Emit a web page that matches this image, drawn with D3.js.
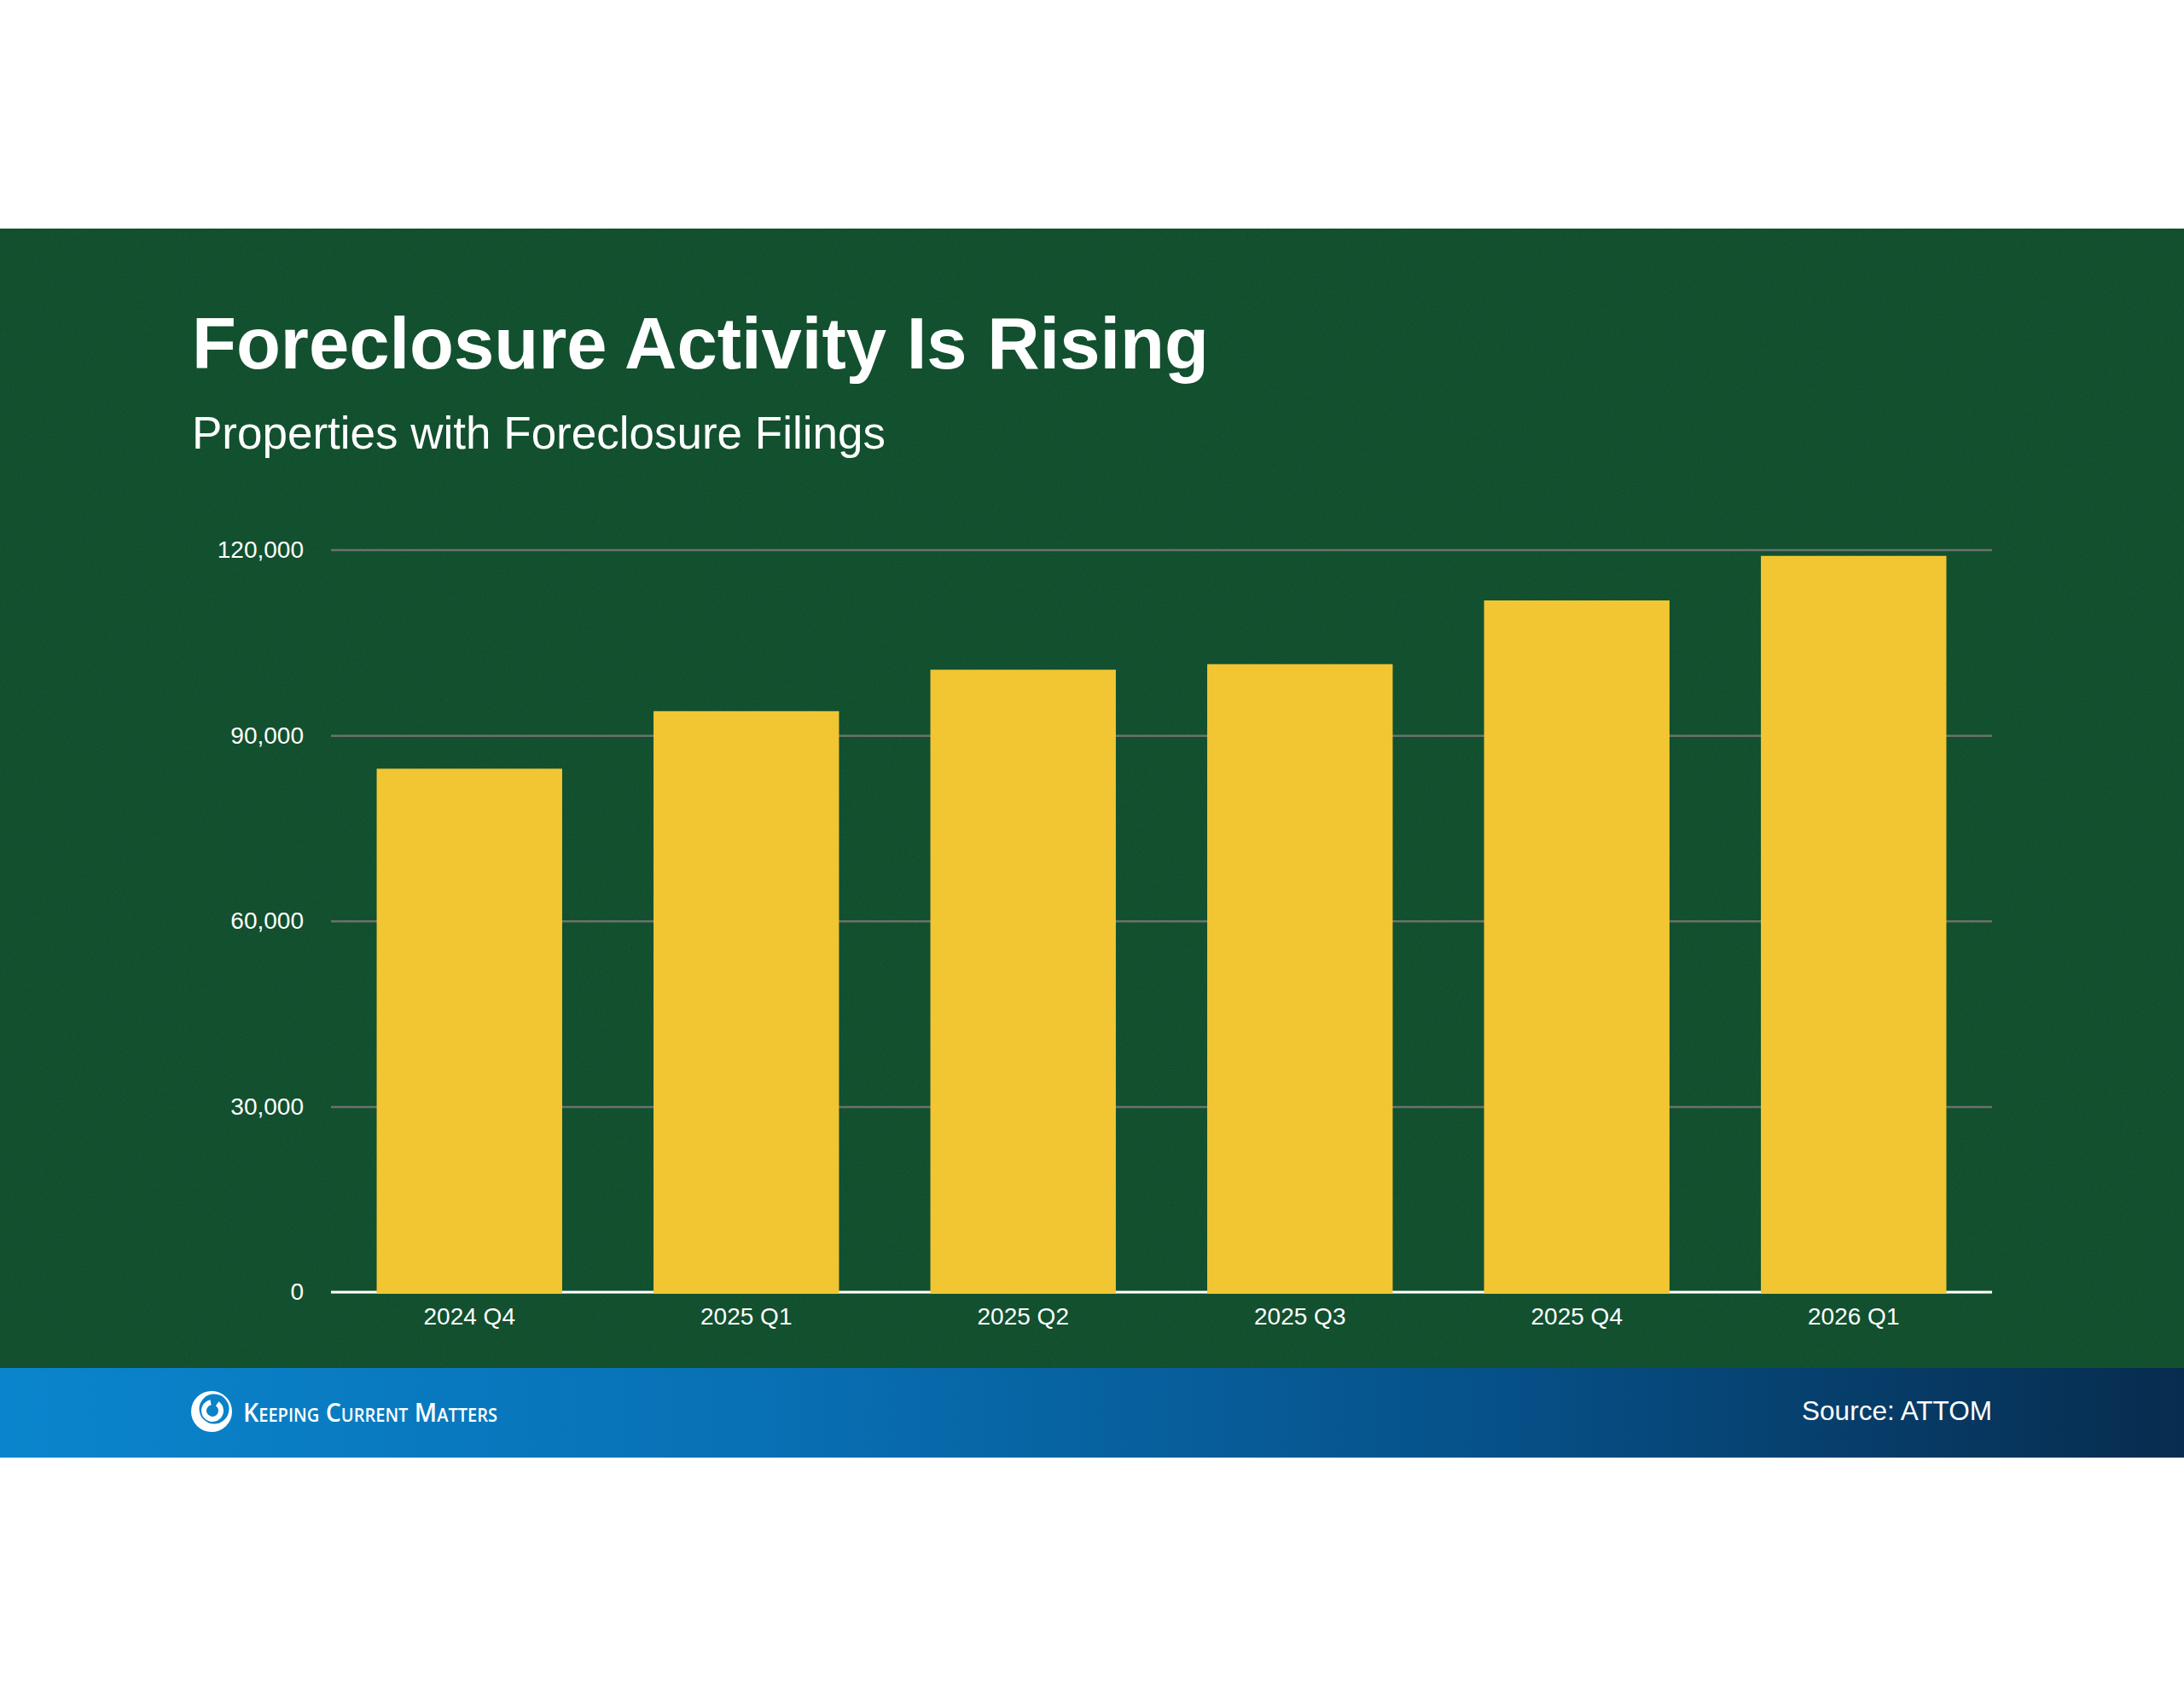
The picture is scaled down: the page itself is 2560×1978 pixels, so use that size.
<!DOCTYPE html>
<html>
<head>
<meta charset="utf-8">
<script src="https://cdn.jsdelivr.net/npm/d3@7"></script>
<style>
  body { margin: 0; background: #fff; }
  svg { display: block; }
</style>
</head>
<body>
<div id="container"></div>
<script>
// data
var quarters = ["2024 Q4", "2025 Q1", "2025 Q2", "2025 Q3", "2025 Q4", "2026 Q1"]
var filings = [84600, 93900, 100600, 101500, 111800, 119000]
var yTicks = [0, 30000, 60000, 90000, 120000]

var W = 2560, H = 1978
var font = "'Liberation Sans', Arial, sans-serif"

var svg = d3.select('#container')
  .append('svg')
  .attr('width', W)
  .attr('height', H)

var defs = svg.append('defs')

// footer gradient
var grad = defs.append('linearGradient')
  .attr('id', 'footerGrad')
  .attr('x1', '0%').attr('x2', '100%')
grad.append('stop').attr('offset', '0%').attr('stop-color', '#0a85cd')
grad.append('stop').attr('offset', '35%').attr('stop-color', '#0870b4')
grad.append('stop').attr('offset', '70%').attr('stop-color', '#064f86')
grad.append('stop').attr('offset', '100%').attr('stop-color', '#072c4e')

// felt-like noise on the green
var noise = defs.append('filter')
  .attr('id', 'noise')
  .attr('x', 0).attr('y', 0).attr('width', '100%').attr('height', '100%')
noise.append('feTurbulence')
  .attr('type', 'fractalNoise')
  .attr('baseFrequency', 0.55)
  .attr('numOctaves', 3)
  .attr('seed', 4)
noise.append('feColorMatrix')
  .attr('values', '0 0 0 0 0.09  0 0 0 0 0.36  0 0 0 0 0.2  0 0 0 0.7 0')

// backgrounds
svg.append('rect')
  .attr('x', 0).attr('y', 268)
  .attr('width', W).attr('height', 1336)
  .attr('fill', '#0e4b2a')
svg.append('rect')
  .attr('x', 0).attr('y', 268)
  .attr('width', W).attr('height', 1336)
  .attr('filter', 'url(#noise)')
  .attr('opacity', 0.18)
svg.append('rect')
  .attr('x', 0).attr('y', 1604)
  .attr('width', W).attr('height', 105)
  .attr('fill', 'url(#footerGrad)')

// titles
svg.append('text')
  .attr('x', 225).attr('y', 432)
  .attr('font-family', font)
  .attr('font-weight', 'bold')
  .attr('font-size', 85)
  .attr('fill', '#fff')
  .text('Foreclosure Activity Is Rising')

svg.append('text')
  .attr('x', 225).attr('y', 526)
  .attr('font-family', font)
  .attr('font-size', 53)
  .attr('fill', '#fff')
  .text('Properties with Foreclosure Filings')

// scales
var x = d3.scaleBand()
  .domain(quarters)
  .range([388, 2335])
  .paddingInner(0.33)
  .paddingOuter(0.165)

var y = d3.scaleLinear()
  .domain([0, 120000])
  .range([1515, 644.5])

// y axis + gridlines
var yAxis = svg.append('g')
  .attr('class', 'y-axis')
  .attr('transform', 'translate(388,0)')
  .call(d3.axisLeft(y)
    .tickValues(yTicks)
    .tickSize(-(2335 - 388))
    .tickPadding(32)
    .tickFormat(d3.format(',')))

yAxis.select('.domain').remove()
yAxis.selectAll('line')
  .attr('stroke', '#6c716c')
  .attr('stroke-width', 2.5)
yAxis.selectAll('text')
  .attr('font-family', font)
  .attr('font-size', 28)
  .attr('fill', '#fff')

// zero line in white
svg.append('line')
  .attr('x1', 388).attr('x2', 2335)
  .attr('y1', y(0)).attr('y2', y(0))
  .attr('stroke', '#fff')
  .attr('stroke-width', 3)

// bars
svg.append('g')
  .attr('class', 'bars')
  .selectAll('rect')
  .data(filings)
  .enter().append('rect')
  .attr('x', (d, i) => x(quarters[i]))
  .attr('y', d => y(d))
  .attr('width', x.bandwidth())
  .attr('height', d => y(0) - y(d) + 2)
  .attr('fill', '#f2c532')

// x axis labels
var xAxis = svg.append('g')
  .attr('class', 'x-axis')
  .attr('transform', 'translate(0,' + y(0) + ')')
  .call(d3.axisBottom(x).tickSize(0).tickPadding(18))

xAxis.select('.domain').remove()
xAxis.selectAll('text')
  .attr('font-family', font)
  .attr('font-size', 28)
  .attr('fill', '#fff')

// footer: source
svg.append('text')
  .attr('x', 2335).attr('y', 1665)
  .attr('text-anchor', 'end')
  .attr('font-family', font)
  .attr('font-size', 31.5)
  .attr('fill', '#fff')
  .text('Source: ATTOM')

// footer: logo swirl (rough)
var logo = svg.append('g').attr('transform', 'translate(248,1655)')
logo.append('circle').attr('r', 24).attr('fill', '#fff')
logo.append('circle').attr('cx', 3).attr('cy', -3).attr('r', 17.5).attr('fill', '#0a82c9')
logo.append('path')
  .attr('d', d3.arc()({ innerRadius: 7, outerRadius: 13, startAngle: 0.6, endAngle: 2 * Math.PI - 0.2 }))
  .attr('transform', 'translate(1,-1)')
  .attr('fill', '#fff')

svg.append('text')
  .attr('x', 285).attr('y', 1667)
  .attr('font-family', "'Open Sans', 'Noto Sans', sans-serif")
  .attr('font-weight', 600)
  .attr('font-size', 30)
  .style('font-variant', 'small-caps')
  .attr('textLength', 298)
  .attr('lengthAdjust', 'spacingAndGlyphs')
  .attr('fill', '#fff')
  .text('Keeping Current Matters')
</script>
</body>
</html>
